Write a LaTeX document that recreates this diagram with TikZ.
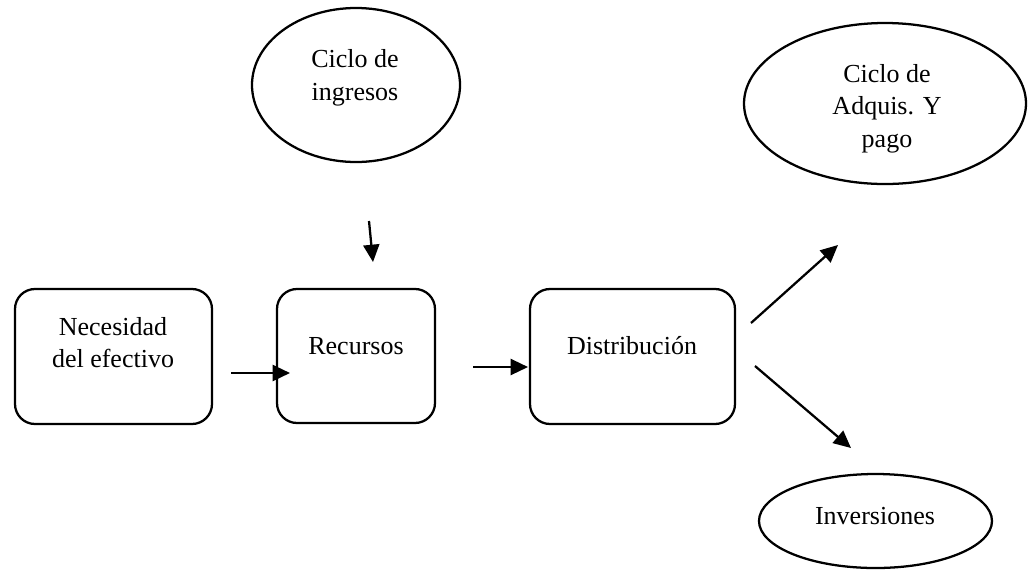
\documentclass[tikz,border=0pt]{standalone}
\usepackage{fontspec}
\setmainfont{Liberation Serif}
\usetikzlibrary{shapes.geometric,arrows.meta}
\begin{document}
\begin{tikzpicture}[x=0.75pt,y=-0.75pt,
  caja/.style={draw,line width=1.7pt,rounded corners=15pt,inner sep=0pt},
  ovalo/.style={draw,ellipse,line width=1.7pt,inner sep=0pt},
  txt/.style={align=center,inner sep=0pt,font=\fontsize{19.5}{24.4}\selectfont},
  flecha/.style={line width=1.7pt,-{Triangle[length=13pt,width=12pt]}}]
\useasboundingbox (0,0) rectangle (1031,569);
\node[caja,minimum width=147.75pt,minimum height=101.25pt] (necesidad) at (113.5,356.5) {};
\node[caja,minimum width=118.5pt,minimum height=100.5pt] (recursos) at (356,356) {};
\node[caja,minimum width=153.75pt,minimum height=101.25pt] (distrib) at (632.5,356.5) {};
\node[ovalo,minimum width=156pt,minimum height=115.5pt] (ingresos) at (356,85) {};
\node[ovalo,minimum width=211.5pt,minimum height=120.75pt] (adquis) at (885,103.5) {};
\node[ovalo,minimum width=174.75pt,minimum height=70.5pt] (inversiones) at (875.5,521) {};

\node[txt] (necesidad-t) at (113,342.5) {Necesidad\\del efectivo};
\node[txt,anchor=base] (recursos-t) at (356,354) {Recursos};
\node[txt,anchor=base] (distrib-t) at (632,354) {Distribución};
\node[txt] (ingresos-t) at (355,78) {Ciclo de\\ingresos};
\node[txt] (adquis-t) at (887,108.5) {Ciclo de\\Adquis. Y\\pago};
\node[txt,anchor=base] (inversiones-t) at (875,524) {Inversiones};

\coordinate (a1) at (231,373);
\coordinate (b1) at (290,373);
\coordinate (a2) at (369,221);
\coordinate (b2) at (373,262);
\coordinate (a3) at (473,367);
\coordinate (b3) at (528,367);
\coordinate (a4) at (751,323);
\coordinate (b4) at (838,245);
\coordinate (a5) at (755,366);
\coordinate (b5) at (851,448);
\draw[flecha] (a1) -- (b1);
\draw[flecha] (a2) -- (b2);
\draw[flecha] (a3) -- (b3);
\draw[flecha] (a4) -- (b4);
\draw[flecha] (a5) -- (b5);
\end{tikzpicture}
\end{document}
